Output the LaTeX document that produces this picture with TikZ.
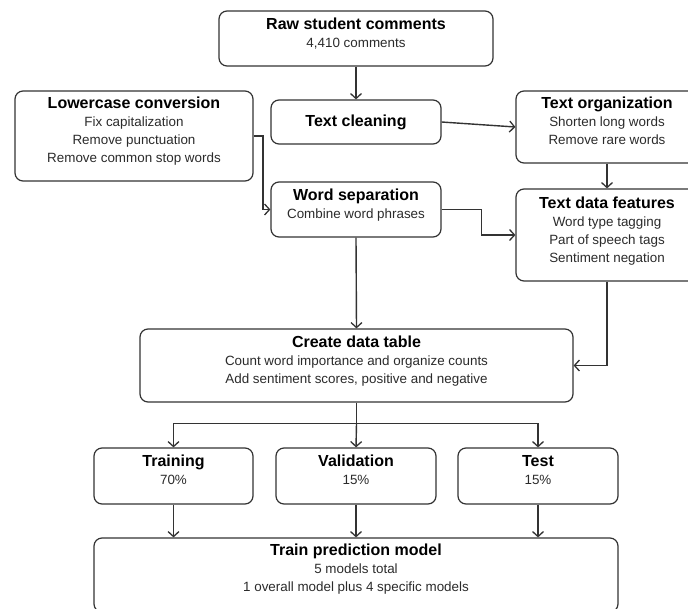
\documentclass[tikz,border=0pt]{standalone}
\usepackage{fontspec}
\setmainfont{Liberation Sans}
\usetikzlibrary{arrows.meta}
\definecolor{edge}{HTML}{333333}
\definecolor{body}{HTML}{2B2B2B}
\newcommand\ttl[1]{{\fontsize{16}{18}\selectfont\bfseries\color{black}\vphantom{(}#1}}
\newcommand\lst[1]{#1\vphantom{(}}
\tikzset{
  box/.style={draw=edge, line width=1.2pt, rounded corners=8pt, fill=white, inner sep=0pt},
  txt/.style={align=center, inner sep=0pt, text=body, font=\fontsize{13.4}{18}\selectfont},
  conn/.style={draw=edge, line width=1.4pt, -{Straight Barb[length=5pt,width=11pt,line width=1.3pt]}},
  plain/.style={draw=edge, line width=1.4pt}
}
\begin{document}
\begin{tikzpicture}[x=1pt,y=-1pt]
\clip (0,0) rectangle (688,608);
\fill[white] (0,0) rectangle (688,608);
% boxes
\node[box, minimum width=274pt, minimum height=55pt] (raw) at (356,38.5) {};
\node[box, minimum width=238pt, minimum height=90pt] (lower) at (134,136) {};
\node[box, minimum width=170pt, minimum height=44pt] (clean) at (356,122) {};
\node[box, minimum width=182pt, minimum height=72pt] (org) at (607,127) {};
\node[box, minimum width=170pt, minimum height=55pt] (wsep) at (356,209.5) {};
\node[box, minimum width=182pt, minimum height=92pt] (tdf) at (607,235) {};
\node[box, minimum width=433pt, minimum height=73pt] (create) at (356.5,365.5) {};
\node[box, minimum width=159pt, minimum height=56pt] (train) at (173.5,476) {};
\node[box, minimum width=160pt, minimum height=56pt] (valid) at (356,476) {};
\node[box, minimum width=160pt, minimum height=56pt] (test) at (538,476) {};
\node[box, minimum width=524pt, minimum height=74pt] (model) at (356,575) {};
% texts
\node[txt] (rawT) at (356,34.3) {\ttl{Raw student comments}\\\lst{4,410 comments}};
\node[txt] (lowerT) at (134,131.3) {\ttl{Lowercase conversion}\\Fix capitalization\\Remove punctuation\\\lst{Remove common stop words}};
\node[txt] (cleanT) at (356,122.3) {\ttl{Text cleaning}\lst{}};
\node[txt] (orgT) at (607,122.3) {\ttl{Text organization}\\Shorten long words\\\lst{Remove rare words}};
\node[txt] (wsepT) at (356,205.3) {\ttl{Word separation}\\\lst{Combine word phrases}};
\node[txt] (tdfT) at (607,231.3) {\ttl{Text data features}\\Word type tagging\\Part of speech tags\\\lst{Sentiment negation}};
\node[txt] (createT) at (356.5,361.3) {\ttl{Create data table}\\Count word importance and organize counts\\\lst{Add sentiment scores, positive and negative}};
\node[txt] (trainT) at (173.5,471.3) {\ttl{Training}\\\lst{70\%}};
\node[txt] (validT) at (356,471.3) {\ttl{Validation}\\\lst{15\%}};
\node[txt] (testT) at (538,471.3) {\ttl{Test}\\\lst{15\%}};
\node[txt] (modelT) at (356,569.3) {\ttl{Train prediction model}\\5 models total\\\lst{1 overall model plus 4 specific models}};
% connectors
\draw[conn] (raw.south) -- (clean.north);
\draw[conn] (clean.east) -- (org.west);
\draw[conn] (lower.east) -- ++(9.5,0) |- (wsep.west);
\draw[conn] (wsep.east) -- ++(40,0) |- (tdf.west);
\draw[conn] (org.south) -- (tdf.north);
\draw[conn] (tdf.south) |- (create.east);
\draw[conn] (wsep.south) -- (create.north);
\coordinate (split) at ([yshift=-21pt]create.south);
\draw[plain] (create.south) -- (split);
\draw[conn] (split) -- (valid.north);
\draw[conn] (split) -| (train.north);
\draw[conn] (split) -| (test.north);
\draw[conn] (train.south) -- (train.south |- model.north);
\draw[conn] (valid.south) -- (valid.south |- model.north);
\draw[conn] (test.south) -- (test.south |- model.north);
\end{tikzpicture}
\end{document}
